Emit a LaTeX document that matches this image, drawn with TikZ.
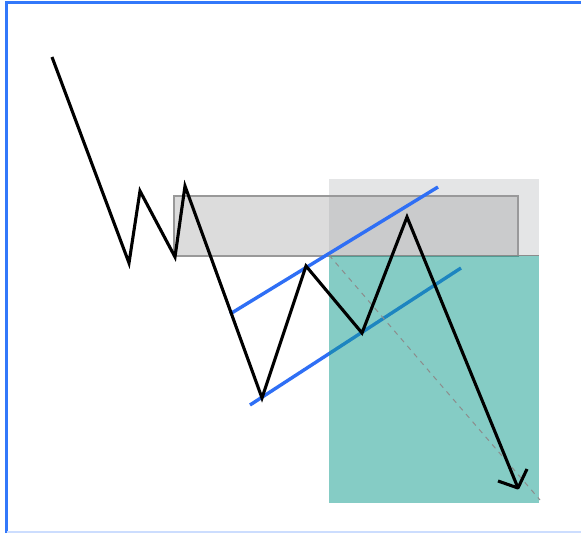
\documentclass[tikz,border=0pt]{standalone}
\begin{document}
\begin{tikzpicture}[x=1pt,y=-1pt,
  price/.style={line width=3.1pt,black,line join=miter,line cap=butt},
  chan/.style={line width=3.4pt,color=chanblue},
  frameline/.style={line width=2.4pt,color=frameblue}]
\definecolor{chanblue}{RGB}{47,111,245}
\definecolor{frameblue}{RGB}{50,120,250}
\definecolor{tealc}{RGB}{13,155,141}
\definecolor{boxgray}{RGB}{220,220,220}
\definecolor{lightbox}{RGB}{154,155,160}
\useasboundingbox (0,0) rectangle (581,533);
\fill[white] (0,0) rectangle (581,533);
% frame
\draw[frameline] (6.5,533) -- (6.5,2.5) -- (581,2.5);
\draw[line width=1.2pt,color=frameblue!25] (6.5,532) -- (581,532);
% resistance box
\draw[fill=boxgray,draw=black!40,line width=1.3pt] (174,196) rectangle (518,256);
\fill[lightbox,opacity=0.26] (329,179) rectangle (539,255);
% channel lines
\coordinate (u1) at (230,314); \coordinate (u2) at (438,187);
\coordinate (l1) at (250,405); \coordinate (l2) at (461,268);
\draw[chan] (u1) -- (u2);
\draw[chan] (l1) -- (l2);
% target box
\fill[tealc,opacity=0.5] (329,255) rectangle (539,503);
\draw[black!45,line width=1.2pt] (329,255.5) -- (539,255.5);
\draw[black!45,line width=1pt,dash pattern=on 5pt off 5pt] (329,255) -- (540,500);
% price path
\coordinate (p0) at (52,57);
\coordinate (p1) at (129,263);
\coordinate (p2) at (140,191);
\coordinate (p3) at (175,257);
\coordinate (p4) at (185,186);
\coordinate (p5) at (262,398);
\coordinate (p6) at (306,266);
\coordinate (p7) at (362,333);
\coordinate (p8) at (407,217);
\coordinate (p9) at (518,488);
\coordinate (a1) at (498,481);
\coordinate (a2) at (527,469);
\draw[price] (p0) -- (p1) -- (p2) -- (p3) -- (p4) -- (p5) -- (p6) -- (p7) -- (p8) -- (p9);
\draw[price,line join=round] (a1) -- (p9) -- (a2);
\end{tikzpicture}
\end{document}
